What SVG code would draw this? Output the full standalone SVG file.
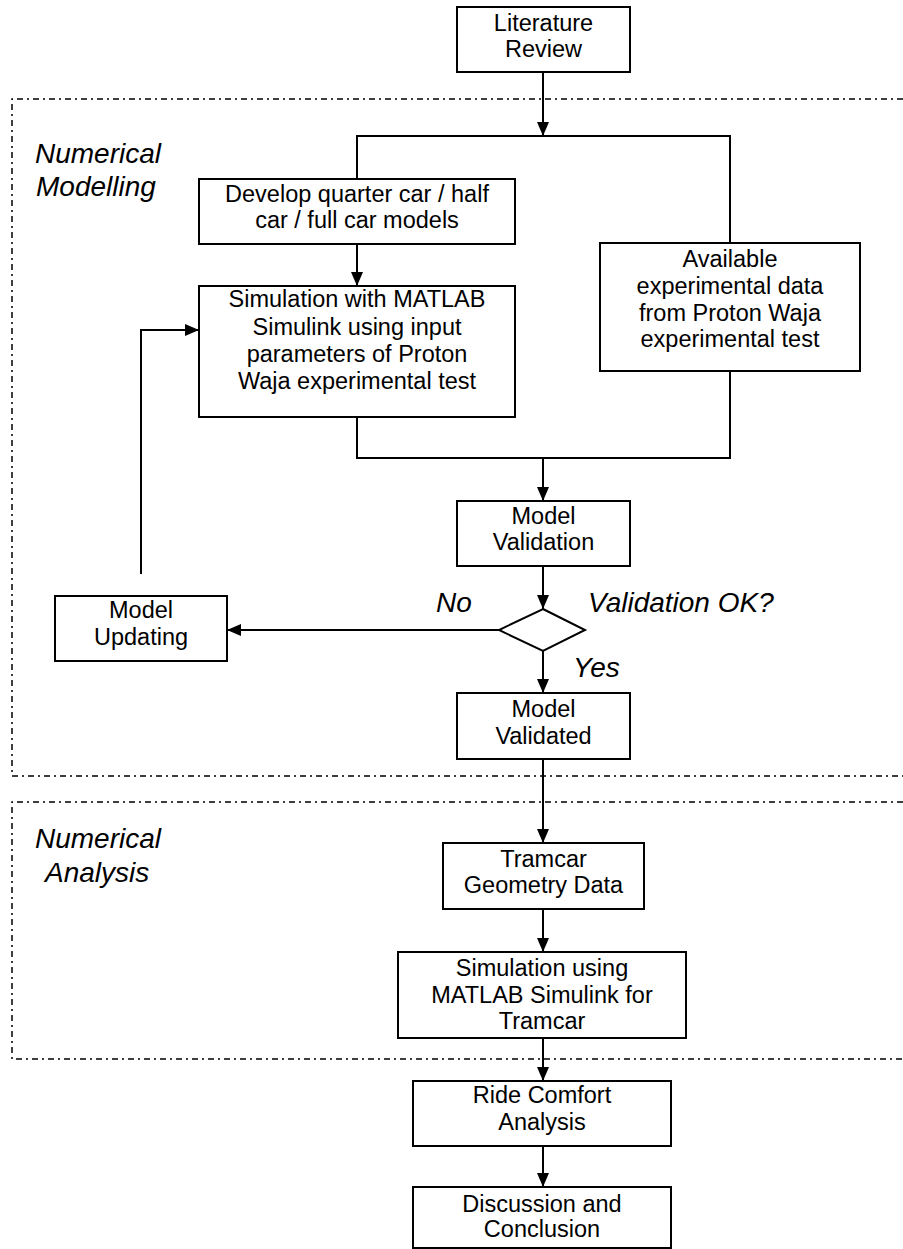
<svg xmlns="http://www.w3.org/2000/svg" width="903" height="1249" viewBox="0 0 903 1249">
<style>
.box{fill:#fff;stroke:#000;stroke-width:2}
.t{font-family:"Liberation Sans",Arial,sans-serif;font-size:23.5px;text-anchor:middle;fill:#000}
.it{font-family:"Liberation Sans",Arial,sans-serif;font-size:28px;font-style:italic;fill:#000}
.c{fill:none;stroke:#000;stroke-width:2}
.ca{fill:none;stroke:#000;stroke-width:2;marker-end:url(#ah)}
.dd{fill:none;stroke:#000;stroke-width:1.5;stroke-dasharray:6 4 2 4}
</style>
<defs>
<marker id="ah" markerUnits="userSpaceOnUse" markerWidth="14" markerHeight="12" refX="14" refY="6" orient="auto">
<path d="M0,0 L14,6 L0,12 Z" fill="#000"/>
</marker>
</defs>
<rect width="903" height="1249" fill="#fff"/>
<g id="groups">
<polyline class="dd" points="903,99 12,99 12,776 903,776"/>
<polyline class="dd" points="903,802 12,802 12,1059 903,1059"/>
<text class="it" x="35" y="163">Numerical</text>
<text class="it" x="36" y="196">Modelling</text>
<text class="it" x="35" y="848">Numerical</text>
<text class="it" x="45" y="882">Analysis</text>
</g>
<g id="connectors">
<line class="ca" x1="543" y1="72" x2="543" y2="136"/>
<polyline class="c" points="357,179 357,136 730,136 730,243"/>
<line class="ca" x1="357" y1="244" x2="357" y2="286"/>
<polyline class="c" points="357,417 357,458 730,458 730,371"/>
<line class="ca" x1="543" y1="458" x2="543" y2="501"/>
<line class="ca" x1="543" y1="566" x2="543" y2="609"/>
<line class="ca" x1="499" y1="630" x2="227" y2="630"/>
<polyline class="ca" points="141,574 141,330 199,330"/>
<line class="ca" x1="543" y1="651" x2="543" y2="693"/>
<line class="ca" x1="543" y1="759" x2="543" y2="843"/>
<line class="ca" x1="543" y1="909" x2="543" y2="952"/>
<line class="ca" x1="543" y1="1038" x2="543" y2="1081"/>
<line class="ca" x1="543" y1="1146" x2="543" y2="1187"/>
<text class="it" x="436" y="612">No</text>
<text class="it" x="588" y="612">Validation OK?</text>
<text class="it" x="573" y="677">Yes</text>
</g>
<g id="literature">
<rect class="box" x="457" y="7" width="173" height="65"/>
<text class="t" x="543.5" y="31">Literature</text>
<text class="t" x="543.5" y="57">Review</text>
</g>
<g id="develop">
<rect class="box" x="199" y="179" width="316" height="65"/>
<text class="t" x="357" y="202">Develop quarter car / half</text>
<text class="t" x="357" y="228">car / full car models</text>
</g>
<g id="available">
<rect class="box" x="600" y="243" width="260" height="128"/>
<text class="t" x="730" y="267">Available</text>
<text class="t" x="730" y="294">experimental data</text>
<text class="t" x="730" y="321">from Proton Waja</text>
<text class="t" x="730" y="347">experimental test</text>
</g>
<g id="simulation1">
<rect class="box" x="199" y="286" width="316" height="131"/>
<text class="t" x="357" y="307">Simulation with MATLAB</text>
<text class="t" x="357" y="335">Simulink using input</text>
<text class="t" x="357" y="362">parameters of Proton</text>
<text class="t" x="357" y="389">Waja experimental test</text>
</g>
<g id="validation">
<rect class="box" x="457" y="501" width="173" height="65"/>
<text class="t" x="543.5" y="524">Model</text>
<text class="t" x="543.5" y="550">Validation</text>
</g>
<g id="decision">
<polygon class="box" points="543,609 585,630 543,651 499,630"/>
</g>
<g id="updating">
<rect class="box" x="55" y="596" width="172" height="65"/>
<text class="t" x="141" y="618">Model</text>
<text class="t" x="141" y="645">Updating</text>
</g>
<g id="validated">
<rect class="box" x="457" y="693" width="173" height="66"/>
<text class="t" x="543.5" y="717">Model</text>
<text class="t" x="543.5" y="744">Validated</text>
</g>
<g id="tramcar">
<rect class="box" x="443" y="843" width="201" height="66"/>
<text class="t" x="543.5" y="867">Tramcar</text>
<text class="t" x="543.5" y="893">Geometry Data</text>
</g>
<g id="simulation2">
<rect class="box" x="398" y="952" width="288" height="86"/>
<text class="t" x="542" y="976">Simulation using</text>
<text class="t" x="542" y="1003">MATLAB Simulink for</text>
<text class="t" x="542" y="1029">Tramcar</text>
</g>
<g id="ride">
<rect class="box" x="413" y="1081" width="258" height="65"/>
<text class="t" x="542" y="1103">Ride Comfort</text>
<text class="t" x="542" y="1130">Analysis</text>
</g>
<g id="discussion">
<rect class="box" x="413" y="1187" width="258" height="61"/>
<text class="t" x="542" y="1212">Discussion and</text>
<text class="t" x="542" y="1237">Conclusion</text>
</g>
</svg>
